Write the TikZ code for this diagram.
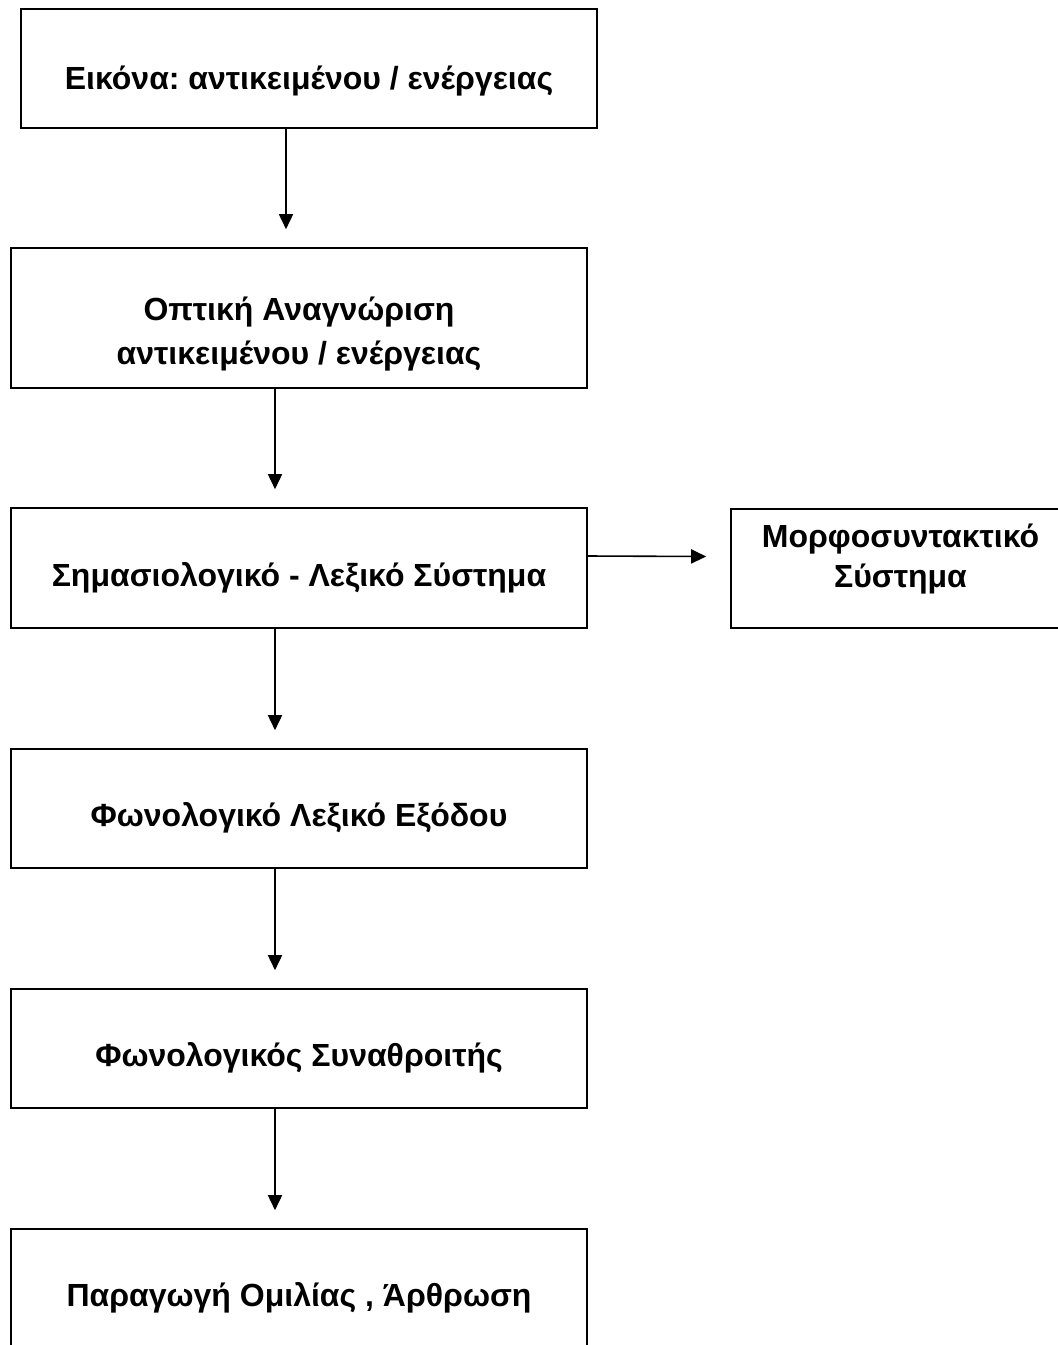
\documentclass[tikz,border=0pt]{standalone}
\usepackage{fontspec}
\setmainfont{Liberation Sans}
\frenchspacing
\usetikzlibrary{arrows.meta,positioning}

\begin{document}
\begin{tikzpicture}[
    x=1pt,
    y=-1pt,
    stage/.style={draw, line width=1.6pt, minimum width=576pt, minimum height=120pt, inner sep=0pt},
    every label/.style={align=center, inner sep=0pt, font=\fontsize{32}{40}\selectfont\bfseries},
    flow/.style={-{Triangle[length=15pt,width=14pt]}, line width=1.6pt}
]
\useasboundingbox (0,0) rectangle (1058,1345);

\node[stage, minimum height=119pt, label={[yshift=-13pt]center:Εικόνα: αντικειμένου / ενέργειας}] (image) at (309,68.5) {};
\node[stage, minimum height=140pt, label={[yshift=-16pt]center:Οπτική Αναγνώριση\\[4pt]αντικειμένου / ενέργειας}] (recog) at (299,318) {};
\node[stage, label={[yshift=-10pt]center:Σημασιολογικό - Λεξικό Σύστημα}] (lexsem) at (299,568) {};
\node[stage, minimum width=339pt, minimum height=119pt, label={[yshift=9pt]center:Μορφοσυντακτικό\\Σύστημα}] (morph) at (900.5,568.5) {};
\node[stage, minimum height=119pt, label={[yshift=-9pt]center:Φωνολογικό Λεξικό Εξόδου}] (phonlex) at (299,808.5) {};
\node[stage, minimum height=119pt, label={[yshift=-9pt]center:Φωνολογικός Συναθροιτής}] (buffer) at (299,1048.5) {};
\node[stage, label={[yshift=-9pt]center:Παραγωγή Ομιλίας , Άρθρωση}] (artic) at (299,1289) {};

% arrow axes
\coordinate (axA) at (286,0);
\coordinate (axB) at (275,0);

\draw[flow] (image.south -| axA) -- ([yshift=18pt]recog.north -| axA);
\draw[flow] (recog.south -| axB) -- ([yshift=18pt]lexsem.north -| axB);
\draw[flow] (lexsem.south -| axB) -- ([yshift=18pt]phonlex.north -| axB);
\draw[flow] (phonlex.south -| axB) -- ([yshift=18pt]buffer.north -| axB);
\draw[flow] (buffer.south -| axB) -- ([yshift=18pt]artic.north -| axB);
\draw[flow] ([yshift=12pt]lexsem.east) -- ([xshift=-24pt,yshift=12pt]morph.west);
\end{tikzpicture}
\end{document}
